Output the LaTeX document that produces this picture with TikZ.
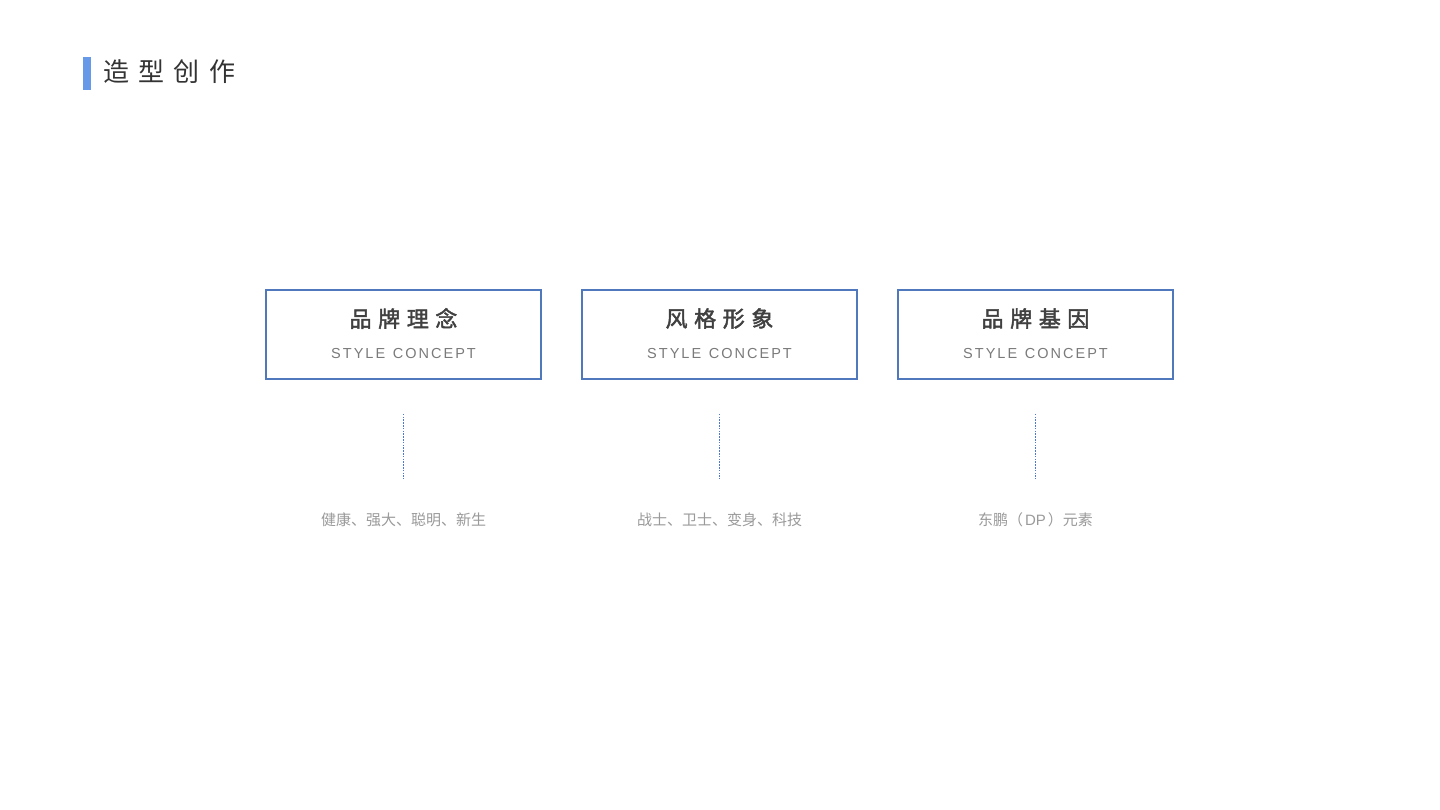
\documentclass[tikz,border=0pt]{standalone}
\usepackage{fontspec}
\setmainfont{Liberation Sans}
\newfontfamily\cjk{Noto Sans CJK SC}
\newfontfamily\latin{Liberation Sans}
\newfontfamily\latinsp{Liberation Sans}[LetterSpace=14]
\newfontfamily\cjksp{Noto Sans CJK SC}[LetterSpace=36]
\newfontfamily\cjkboldsp{Noto Sans CJK SC}[LetterSpace=30,FakeBold=2]
\definecolor{bar}{HTML}{6699E8}
\definecolor{boxblue}{HTML}{5078BC}
\definecolor{dotblue}{HTML}{4A7BD0}
\definecolor{titlegray}{HTML}{333333}
\definecolor{headgray}{HTML}{404040}
\definecolor{subgray}{HTML}{7A7A7A}
\definecolor{lightgray}{HTML}{9A9A9A}
\begin{document}
\begin{tikzpicture}[x=1pt,y=-1pt,
  conceptbox/.style={draw=boxblue,line width=1.5pt,minimum width=275pt,minimum height=89pt,inner sep=0pt},
  headtext/.style={inner sep=0pt,text=headgray,font=\fontsize{22pt}{24pt}\cjkboldsp},
  subtext/.style={inner sep=0pt,text=subgray,font=\fontsize{14.5pt}{16pt}\latinsp},
  bottomtext/.style={inner sep=0pt,text=lightgray,font=\fontsize{15pt}{16pt}\cjk},
  dotline/.style={draw=dotblue,line width=1.6pt,dash pattern=on 1.6pt off 1.2pt}]
\useasboundingbox (0,0) rectangle (1440,810);
\fill[white] (0,0) rectangle (1440,810);
\fill[bar] (83,57) rectangle (91,90);
\node[anchor=west,inner sep=0pt,text=titlegray,font=\fontsize{26pt}{28pt}\cjksp] (title) at (103,72) {造型创作};
\foreach \i/\cx/\head/\bottom in {1/403.5/品牌理念/健康、强大、聪明、新生, 2/719.5/风格形象/战士、卫士、变身、科技, 3/1035.5/品牌基因/东鹏（\kern2pt{\latin DP}\kern2pt）元素}{
  \node[conceptbox] (box\i) at (\cx,334.5) {};
  \node[headtext] (head\i) at ([yshift=16]box\i.center) {\head};
  \node[subtext] (sub\i) at ([yshift=-19]box\i.center) {STYLE\kern1.5pt\ CONCEPT};
  \node[bottomtext] (bot\i) at (\cx,520) {\bottom};
  \coordinate (ls\i) at ([yshift=-34]box\i.south);
  \coordinate (le\i) at ([yshift=34]bot\i.north);
  \draw[dotline] (ls\i) -- (le\i);
}
\end{tikzpicture}
\end{document}
